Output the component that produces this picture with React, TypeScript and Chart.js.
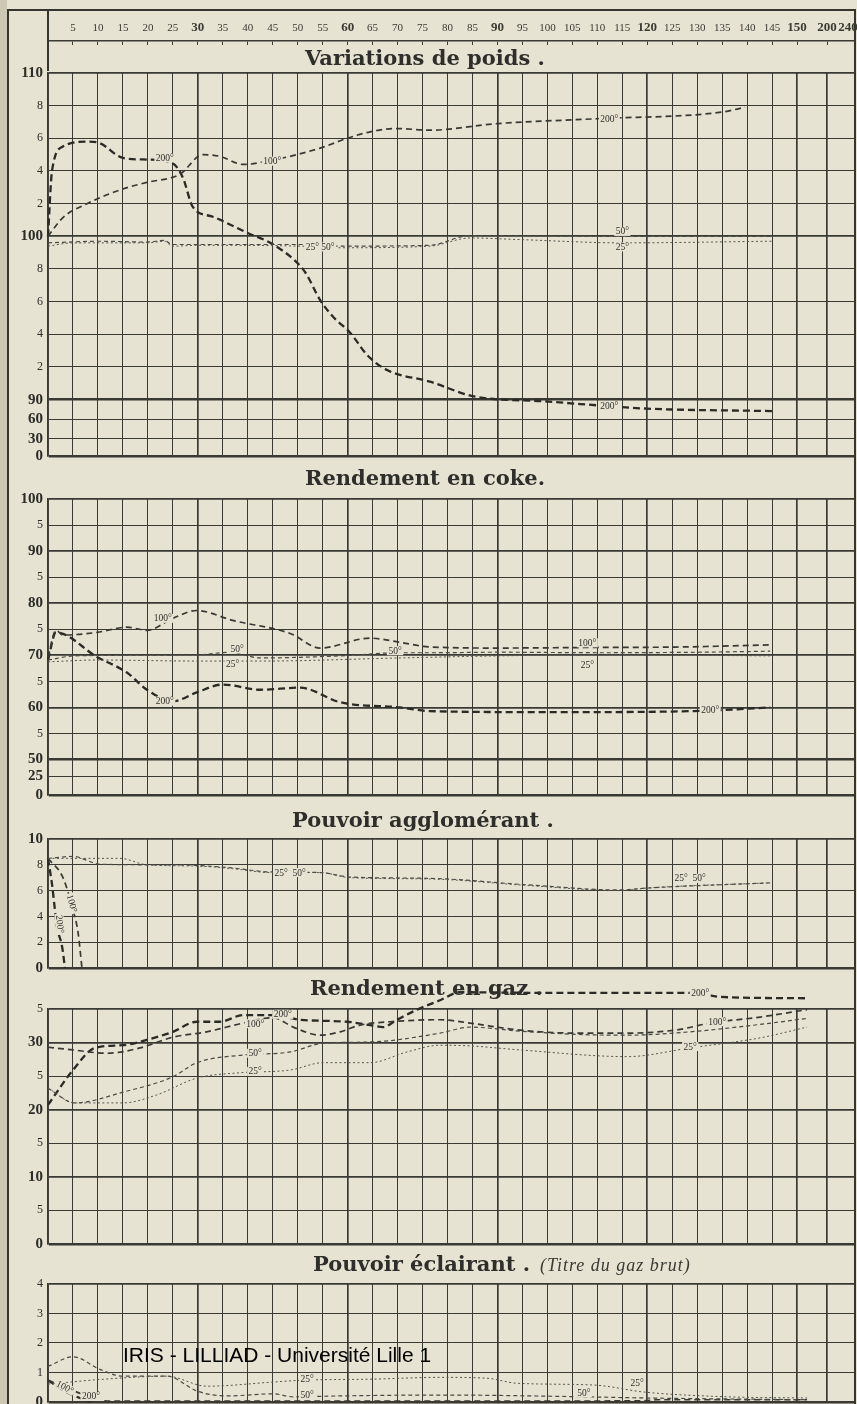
import React, { useEffect, useRef } from 'react';
import { Chart, registerables } from 'chart.js';

Chart.register(...registerables);

// ---------- styling constants ----------
const PAPER = '#e6e3d2';
const INK = '#3a3a34';
const SERIF = '"Liberation Serif", "DejaVu Serif", serif';
const TITLE_FONT = '"DejaVu Serif", "Liberation Serif", serif';
const GRID_W = [1, 1.7, 2.6];
const PAD_BOTTOM = 12;

// ---------- x axis (minutes) ----------
const X_MAX = 161.6;
const BREAK_POS: Record<string, number> = { '200': 156, '240': 160.2 };
const topTickLabels = [
  '5', '10', '15', '20', '25', '30', '35', '40', '45', '50', '55', '60', '65', '70', '75',
  '80', '85', '90', '95', '100', '105', '110', '115', '120', '125', '130', '135', '140', '145',
  '150', '200', '240',
];
const boldTopLabels = ['30', '60', '90', '120', '150', '200', '240'];
const axisPos = (l: string) => (BREAK_POS[l] !== undefined ? BREAK_POS[l] : Number(l));
const gridX = [0, ...topTickLabels.filter((l) => l !== '240').map(axisPos)];
const boldGridX = [0, 30, 60, 90, 120, 150, 156];

// ---------- titles ----------
const panelTitles = [
  'Variations de poids .',
  'Rendement en coke.',
  'Pouvoir agglomérant .',
  'Rendement en gaz .',
  'Pouvoir éclairant .',
];
const subTitle = '(Titre du gaz brut)';
const watermark = 'IRIS - LILLIAD - Université Lille 1';

// ---------- Variations de poids ----------
const poidsTicks = [110, 108, 106, 104, 102, 100, 98, 96, 94, 92, 90, 88.8, 87.6, 86.55];
const poidsLabels = ['110', '8', '6', '4', '2', '100', '8', '6', '4', '2', '90', '60', '30', '0'];
const poids200 = [[0, 100], [0.8, 104], [3, 105.5], [7.8, 105.8], [10.4, 105.7], [15, 104.8], [19.8, 104.7], [24.8, 104.5], [27, 103.6], [29, 101.8], [33, 101.2], [40, 100.2], [44.5, 99.6], [49.5, 98.5], [51.5, 97.8], [54.5, 96.1], [57, 95.1], [60.5, 94.1], [64, 92.7], [68, 91.8], [76.5, 91.1], [85.3, 90.2], [99.3, 89.9], [112.4, 89.6], [120, 89.45], [145, 89.3]];
const poids100 = [[0, 100], [3, 101.15], [7.8, 102], [15, 102.9], [19.8, 103.3], [26.4, 103.8], [31, 105], [34.4, 104.9], [39.1, 104.4], [43.9, 104.6], [54.5, 105.4], [59.9, 106], [64.5, 106.4], [69.9, 106.6], [76.5, 106.5], [89.9, 106.9], [109.9, 107.2], [134.8, 107.6], [139.6, 107.9]];
const poids50 = [[0, 99.6], [10.4, 99.7], [19.8, 99.65], [23.4, 99.75], [24.8, 99.5], [50.5, 99.5], [58.5, 99.4], [76.5, 99.45], [84.5, 100.05], [115, 100], [145, 100]];
const poids25 = [[0, 99.4], [5, 99.6], [19.8, 99.6], [23.4, 99.7], [24.8, 99.4], [30.4, 99.45], [50.5, 99.4], [58.5, 99.3], [76.5, 99.4], [84.5, 99.9], [94.5, 99.8], [115, 99.6], [145, 99.7]];

// ---------- Rendement en coke ----------
const cokeTicks = [100, 95, 90, 85, 80, 75, 70, 65, 60, 55, 50, 46.8, 43.2];
const cokeLabels = ['100', '5', '90', '5', '80', '5', '70', '5', '60', '5', '50', '25', '0'];
const coke200 = [[0, 69.1], [1.6, 74.4], [9.8, 69.7], [15.8, 66.7], [19.8, 63.4], [25, 61.2], [29.8, 62.9], [35, 64.4], [42.5, 63.4], [50.5, 63.8], [58.5, 61], [70.5, 60], [76.5, 59.3], [100.5, 59.1], [129.4, 59.3], [144.6, 60]];
const coke100 = [[0, 69.7], [1.6, 74.8], [3, 73.9], [9.8, 74.4], [15.8, 75.4], [19.8, 74.8], [25, 77.1], [29.8, 78.6], [37, 76.7], [48.5, 74.2], [54.5, 71.4], [64.5, 73.3], [70.5, 72.5], [76.5, 71.6], [90.5, 71.4], [107.3, 71.5], [126.6, 71.6], [144.6, 72]];
const coke50 = [[0, 69.1], [5.4, 69.9], [29.8, 70.1], [36.5, 70.6], [42.5, 69.5], [58.5, 69.9], [70.5, 70.5], [76.5, 70.5], [90.5, 70.6], [110.6, 70.5], [130.6, 70.6], [144.6, 70.8]];
const coke25 = [[0, 68.75], [9.8, 69.1], [30.4, 68.9], [42.5, 68.9], [70.5, 69.5], [90.5, 69.9], [110.6, 70.1], [144.6, 69.9]];

// ---------- Pouvoir agglomérant ----------
const aggloTicks = [10, 8, 6, 4, 2, 0];
const aggloLabels = ['10', '8', '6', '4', '2', '0'];
const agglo200 = [[0, 8.5], [0.8, 6.5], [1.8, 3.2], [2.8, 1.7], [3.4, 0]];
const agglo100 = [[0, 8.5], [3, 7], [5, 4.5], [6, 2.8], [6.8, 0]];
const agglo50 = [[0, 8.5], [5, 8.65], [10.4, 8.05], [19.8, 8], [29.8, 7.95], [37, 7.75], [44.5, 7.45], [54.5, 7.4], [60.5, 7.05], [76.5, 6.95], [95.9, 6.45], [114.6, 6.05], [120, 6.2], [144.6, 6.6]];
const agglo25 = [[0, 8.5], [14.4, 8.5], [19.8, 8], [29.8, 7.9], [37, 7.7], [44.5, 7.4], [54.5, 7.4], [60.5, 7], [76.5, 6.9], [95.9, 6.4], [114.6, 6], [120, 6.2], [144.6, 6.6]];

// ---------- Rendement en gaz ----------
const gazTicks = [35, 30, 25, 20, 15, 10, 5, 0];
const gazLabels = ['5', '30', '5', '20', '5', '10', '5', '0'];
const gaz200 = [[0, 20.7], [5, 25.9], [9.4, 29.2], [15, 29.6], [19.8, 30.4], [25, 31.6], [29.8, 33.1], [34.4, 33.1], [39.1, 34.1], [45.1, 34.1], [50.5, 33.4], [59.9, 33.1], [64.5, 32.6], [67.1, 32.3], [69.9, 33.4], [73.9, 34.9], [78.5, 36.3], [82.5, 37.5], [99.9, 37.4], [129.4, 37.4], [134.6, 36.8], [152, 36.6]];
const gaz100 = [[0, 29.3], [5, 28.9], [11.8, 28.4], [18.4, 29.2], [25, 30.8], [31.8, 31.6], [39.1, 32.9], [45.1, 33.7], [49.1, 32.3], [54.5, 31.1], [58.5, 31.6], [62.5, 32.6], [68.5, 33.1], [78.5, 33.4], [84.5, 32.9], [93.9, 31.9], [105.9, 31.4], [116, 31.4], [126, 31.9], [132.6, 32.9], [142.6, 33.8], [152, 34.9]];
const gaz50 = [[0, 23.2], [5.4, 21], [15, 22.6], [25, 24.9], [29.8, 27], [38.5, 28.1], [48.5, 28.6], [55.1, 29.9], [65.1, 30.1], [78.5, 31.4], [84.5, 32.3], [94.5, 31.7], [106.5, 31.2], [116, 31.1], [128.6, 31.6], [142.6, 32.7], [152, 33.6]];
const gaz25 = [[0, 23.2], [5.4, 21], [15, 21], [21.8, 22.2], [29.8, 24.7], [38.5, 25.5], [48.5, 25.9], [55.1, 27], [64.5, 27], [71.9, 28.6], [78.5, 29.6], [84.5, 29.5], [94.5, 28.9], [116, 27.9], [128.6, 29.2], [142.6, 30.7], [152, 32.3]];

// ---------- Pouvoir éclairant ----------
const eclTicks = [4, 3, 2, 1, 0];
const eclLabels = ['4', '3', '2', '1', '0'];
const ecl200 = [[0, 0.73], [4.4, 0.27], [8.4, 0]];
const ecl100 = [[0, 0.73], [2.4, 0.57], [7.4, 0.23], [12.4, 0.02], [119, 0.03], [122, 0.07], [152, 0.07]];
const ecl50 = [[0, 1.2], [5, 1.53], [10.4, 1.1], [15, 0.87], [23.8, 0.87], [25, 0.83], [29.8, 0.37], [35.8, 0.2], [45.1, 0.27], [49.1, 0.17], [58.5, 0.2], [78.5, 0.23], [107.3, 0.17], [119.4, 0.13], [152, 0.07]];
const ecl25 = [[0, 0.6], [11.4, 0.77], [23.8, 0.87], [31.8, 0.53], [45.1, 0.67], [50.5, 0.73], [65.1, 0.77], [78.5, 0.83], [87.9, 0.8], [93.9, 0.63], [109.3, 0.57], [119.4, 0.33], [136, 0.17], [152, 0.13]];

// ---------- curve labels ----------
type Note = { x: number; y: number; t: string; rot?: number };
const poidsNotes: Note[] = [
  { x: 23.4, y: 104.8, t: '200°' }, { x: 44.9, y: 104.6, t: '100°' }, { x: 54.5, y: 99.35, t: '25° 50°' },
  { x: 112.4, y: 107.2, t: '200°' }, { x: 115, y: 100.3, t: '50°' }, { x: 115, y: 99.35, t: '25°' },
  { x: 112.4, y: 89.6, t: '200°' },
];
const cokeNotes: Note[] = [
  { x: 23, y: 77.1, t: '100°' }, { x: 37.9, y: 71.2, t: '50°' }, { x: 37, y: 68.3, t: '25°' },
  { x: 23.4, y: 61.2, t: '200°' }, { x: 69.5, y: 70.9, t: '50°' }, { x: 108, y: 72.4, t: '100°' },
  { x: 108, y: 68.1, t: '25°' }, { x: 132.6, y: 59.5, t: '200°' },
];
const aggloNotes: Note[] = [
  { x: 48.5, y: 7.4, t: '25°  50°' }, { x: 128.6, y: 6.95, t: '25°  50°' },
  { x: 2.4, y: 3.4, t: '200°', rot: 1.45 }, { x: 4.8, y: 5.0, t: '100°', rot: 1.3 },
];
const gazNotes: Note[] = [
  { x: 47, y: 34.2, t: '200°' }, { x: 41.5, y: 32.8, t: '100°' }, { x: 41.5, y: 28.4, t: '50°' },
  { x: 41.5, y: 25.7, t: '25°' }, { x: 130.6, y: 37.4, t: '200°' }, { x: 134, y: 33.1, t: '100°' },
  { x: 128.6, y: 29.4, t: '25°' },
];
const eclNotes: Note[] = [
  { x: 51.9, y: 0.78, t: '25°' }, { x: 51.9, y: 0.23, t: '50°' }, { x: 107.3, y: 0.3, t: '50°' },
  { x: 118, y: 0.63, t: '25°' }, { x: 3.4, y: 0.5, t: '100°', rot: 0.5 }, { x: 8.6, y: 0.18, t: '200°' },
];

// ---------- series styles ----------
const SERIES_STYLE: Record<string, { w: number; dash: number[]; color: string }> = {
  '25': { w: 1, dash: [2, 2.5], color: '#55554e' },
  '50': { w: 1.2, dash: [4, 3], color: '#4a4a44' },
  '100': { w: 1.7, dash: [6, 4], color: '#393934' },
  '200': { w: 2.3, dash: [7, 4], color: '#2a2a26' },
};

type Series = { data: number[][]; kind: string };
type Spec = {
  top: number; bottom: number; padTop: number; yMin: number; yMax: number;
  yTicks: number[]; yLabels: string[]; yWeights: number[]; series: Series[]; notes: Note[];
};

const panels: Spec[] = [
  {
    top: 71, bottom: 458, padTop: 12, yMin: 86.55, yMax: 110,
    yTicks: poidsTicks, yLabels: poidsLabels, yWeights: [1, 0, 0, 0, 0, 1, 0, 0, 0, 0, 2, 0, 0, 2],
    series: [{ data: poids25, kind: '25' }, { data: poids50, kind: '50' }, { data: poids100, kind: '100' }, { data: poids200, kind: '200' }],
    notes: poidsNotes,
  },
  {
    top: 497, bottom: 797, padTop: 12, yMin: 43.2, yMax: 100,
    yTicks: cokeTicks, yLabels: cokeLabels, yWeights: [1, 0, 1, 0, 1, 0, 1, 0, 1, 0, 2, 0, 2],
    series: [{ data: coke25, kind: '25' }, { data: coke50, kind: '50' }, { data: coke100, kind: '100' }, { data: coke200, kind: '200' }],
    notes: cokeNotes,
  },
  {
    top: 837, bottom: 970, padTop: 12, yMin: 0, yMax: 10,
    yTicks: aggloTicks, yLabels: aggloLabels, yWeights: [1, 0, 0, 0, 0, 2],
    series: [{ data: agglo25, kind: '25' }, { data: agglo50, kind: '50' }, { data: agglo100, kind: '100' }, { data: agglo200, kind: '200' }],
    notes: aggloNotes,
  },
  {
    top: 1009, bottom: 1244, padTop: 34, yMin: 0, yMax: 35,
    yTicks: gazTicks, yLabels: gazLabels, yWeights: [1, 1, 0, 1, 0, 1, 0, 2],
    series: [{ data: gaz25, kind: '25' }, { data: gaz50, kind: '50' }, { data: gaz100, kind: '100' }, { data: gaz200, kind: '200' }],
    notes: gazNotes,
  },
  {
    top: 1282, bottom: 1402, padTop: 12, yMin: 0, yMax: 4,
    yTicks: eclTicks, yLabels: eclLabels, yWeights: [1, 0, 0, 0, 2],
    series: [{ data: ecl25, kind: '25' }, { data: ecl50, kind: '50' }, { data: ecl100, kind: '100' }, { data: ecl200, kind: '200' }],
    notes: eclNotes,
  },
];

const labelFont = (label: string) =>
  label.length >= 2 || label === '0'
    ? { family: SERIF, size: 15, weight: 'bold' as const }
    : { family: SERIF, size: 12, weight: 'normal' as const };

function makeNotePlugin(items: Note[]) {
  return {
    id: 'curveNotes',
    afterDatasetsDraw(chart: any) {
      const { ctx } = chart;
      const xs = chart.scales.x;
      const ys = chart.scales.y;
      ctx.save();
      ctx.font = `9.5px ${SERIF}`;
      ctx.textAlign = 'center';
      ctx.textBaseline = 'middle';
      for (const n of items) {
        const px = xs.getPixelForValue(n.x);
        const py = ys.getPixelForValue(n.y);
        ctx.save();
        ctx.translate(px, py);
        if (n.rot) ctx.rotate(n.rot);
        const w = ctx.measureText(n.t).width;
        ctx.fillStyle = PAPER;
        ctx.fillRect(-w / 2 - 1.5, -4.5, w + 3, 9);
        ctx.fillStyle = '#2e2e2a';
        ctx.fillText(n.t, 0, 0.5);
        ctx.restore();
      }
      ctx.restore();
    },
  };
}

function TopAxis() {
  const ref = useRef<HTMLCanvasElement | null>(null);
  useEffect(() => {
    if (!ref.current) return;
    const chart = new Chart(ref.current, {
      type: 'line',
      data: { datasets: [] },
      options: {
        responsive: false,
        animation: false,
        devicePixelRatio: 1,
        events: [],
        layout: { padding: { left: 48, right: 2, top: 0, bottom: 0 } },
        plugins: { legend: { display: false }, tooltip: { enabled: false } },
        scales: {
          x: {
            type: 'linear',
            position: 'top',
            min: 0,
            max: X_MAX,
            afterBuildTicks: (s: any) => {
              s.ticks = topTickLabels.map((l) => ({ value: axisPos(l) }));
            },
            afterFit: (s: any) => {
              s.height = 31;
              s.paddingLeft = 0;
              s.paddingRight = 0;
            },
            ticks: {
              autoSkip: false,
              maxRotation: 0,
              minRotation: 0,
              padding: 6,
              color: INK,
              callback: (_v: any, i: number) => topTickLabels[i],
              font: (c: any) =>
                boldTopLabels.includes(topTickLabels[c.index])
                  ? { family: SERIF, size: 13, weight: 'bold' }
                  : { family: SERIF, size: 11, weight: 'normal' },
            },
            grid: {
              drawTicks: false,
              drawOnChartArea: true,
              color: INK,
              lineWidth: (c: any) => (topTickLabels[c.index] === '240' ? 0 : 1),
            },
            border: { display: true, color: INK, width: 1.5 },
          },
          y: { display: false, min: 0, max: 1 },
        },
      } as any,
    });
    return () => chart.destroy();
  }, []);
  return (
    <canvas
      ref={ref}
      width={857}
      height={35}
      style={{ position: 'absolute', left: 0, top: 10, width: 857, height: 35 }}
    />
  );
}

function Panel({ spec }: { spec: Spec }) {
  const ref = useRef<HTMLCanvasElement | null>(null);
  const canvasTop = spec.top - spec.padTop;
  const canvasH = spec.bottom - spec.top + spec.padTop + PAD_BOTTOM;
  useEffect(() => {
    if (!ref.current) return;
    const chart = new Chart(ref.current, {
      type: 'line',
      data: {
        datasets: spec.series.map((s) => {
          const st = SERIES_STYLE[s.kind];
          return {
            label: s.kind + '°',
            data: s.data.map(([x, y]) => ({ x, y })),
            borderColor: st.color,
            borderWidth: st.w,
            borderDash: st.dash,
            pointRadius: 0,
            fill: false,
            tension: 0.4,
            cubicInterpolationMode: 'monotone',
            clip: false,
          };
        }),
      },
      options: {
        responsive: false,
        animation: false,
        devicePixelRatio: 1,
        events: [],
        layout: { padding: { left: 0, right: 2, top: spec.padTop, bottom: PAD_BOTTOM } },
        plugins: { legend: { display: false }, tooltip: { enabled: false } },
        scales: {
          x: {
            type: 'linear',
            min: 0,
            max: X_MAX,
            afterBuildTicks: (s: any) => {
              s.ticks = gridX.map((v) => ({ value: v }));
            },
            afterFit: (s: any) => {
              s.height = 0;
              s.paddingLeft = 0;
              s.paddingRight = 0;
            },
            ticks: { display: false },
            grid: {
              drawTicks: false,
              color: INK,
              lineWidth: (c: any) => (boldGridX.includes(gridX[c.index]) ? GRID_W[1] : GRID_W[0]),
            },
            border: { display: false },
          },
          y: {
            type: 'linear',
            min: spec.yMin,
            max: spec.yMax,
            afterBuildTicks: (s: any) => {
              s.ticks = spec.yTicks.map((v) => ({ value: v }));
            },
            afterFit: (s: any) => {
              s.width = 48;
            },
            ticks: {
              autoSkip: false,
              padding: 5,
              color: '#2c2c28',
              callback: (_v: any, i: number) => spec.yLabels[i],
              font: (c: any) => labelFont(spec.yLabels[c.index] || ''),
            },
            grid: {
              drawTicks: false,
              color: INK,
              lineWidth: (c: any) => GRID_W[spec.yWeights[c.index] || 0],
            },
            border: { display: true, color: INK, width: 1.8 },
          },
        },
      } as any,
      plugins: [makeNotePlugin(spec.notes)],
    });
    return () => chart.destroy();
  }, [spec]);
  return (
    <canvas
      ref={ref}
      width={857}
      height={canvasH}
      style={{ position: 'absolute', left: 0, top: canvasTop, width: 857, height: canvasH }}
    />
  );
}

const titleStyle = (left: number, top: number): React.CSSProperties => ({
  position: 'absolute',
  left,
  top,
  font: `bold 21px ${TITLE_FONT}`,
  lineHeight: '21px',
  color: '#2e2e2a',
  whiteSpace: 'nowrap',
});

const line = (left: number, top: number, width: number, height: number): React.CSSProperties => ({
  position: 'absolute',
  left,
  top,
  width,
  height,
  background: '#35352f',
});

export default function App() {
  const titlePos = [
    [305, 47],
    [305, 467],
    [292, 809],
    [310, 977],
    [313, 1253],
  ];
  return (
    <div
      style={{
        position: 'absolute',
        left: 0,
        top: 0,
        width: 857,
        height: 1404,
        overflow: 'hidden',
        background: PAPER,
      }}
    >
      <div style={{ position: 'absolute', left: 0, top: 0, width: 7, height: 1404, background: '#cdc8b3' }} />
      <div style={line(7, 9, 2, 1395)} />
      <div style={line(7, 9, 849, 2)} />
      <div style={line(854, 9, 2, 1395)} />
      <div style={line(47, 10, 1.5, 61)} />
      <TopAxis />
      {panels.map((p, i) => (
        <Panel key={i} spec={p} />
      ))}
      {panelTitles.map((t, i) => (
        <div key={t} style={titleStyle(titlePos[i][0], titlePos[i][1])}>
          {t}
        </div>
      ))}
      <div
        style={{
          position: 'absolute',
          left: 540,
          top: 1255,
          font: `italic 18px ${SERIF}`,
          lineHeight: '20px',
          letterSpacing: '1px',
          color: '#3a3a34',
          whiteSpace: 'nowrap',
        }}
      >
        {subTitle}
      </div>
      <div
        style={{
          position: 'absolute',
          left: 123,
          top: 1344,
          font: '21px "Liberation Sans", Arial, sans-serif',
          lineHeight: '21px',
          color: '#000',
          whiteSpace: 'nowrap',
        }}
      >
        {watermark}
      </div>
    </div>
  );
}
